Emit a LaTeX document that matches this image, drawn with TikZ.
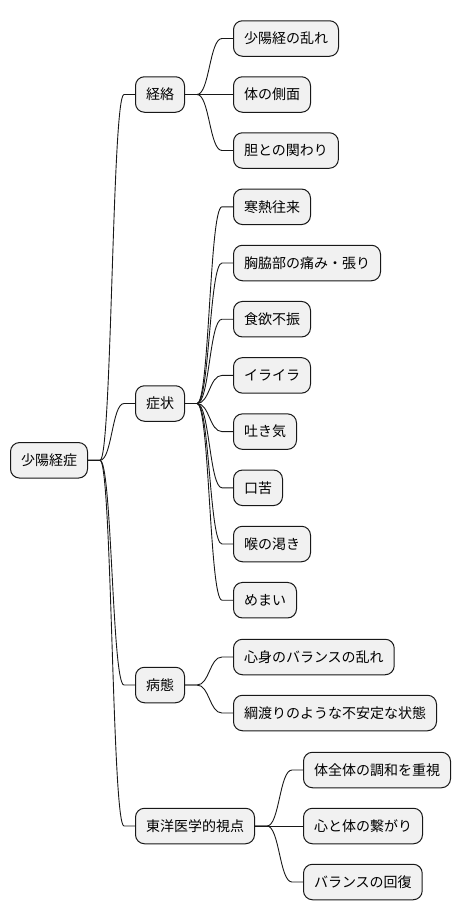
\documentclass[tikz,border=0pt]{standalone}
\usepackage{fontspec}
\newfontfamily\cjk{Noto Sans CJK JP}
\usetikzlibrary{calc}
\definecolor{boxfill}{HTML}{F1F1F1}
\definecolor{boxline}{HTML}{181818}
\tikzset{
  mmnode/.style={draw=boxline, fill=boxfill, rounded corners=9pt, line width=1pt,
    minimum height=35.5pt, inner xsep=10.5pt, inner ysep=0pt, anchor=west,
    font=\cjk\fontsize{14pt}{16pt}\selectfont, text=black},
  conn/.style={draw=boxline, line width=0.9pt}
}
\newcommand\linkto[2]{%
  \path (#1.east) ++(12pt,0) coordinate (fa);
  \path (#2.west) ++(-11pt,0) coordinate (fb);
  \path ($(fa)!0.5!(fb)$) coordinate (fm);
  \draw[conn] (#1.east) -- (fa) .. controls (fm |- fa) and (fm |- fb) .. (fb) -- (#2.west);}
\begin{document}
\begin{tikzpicture}[x=1pt,y=-1pt]
\useasboundingbox (0,0) rectangle (460,921);
\node[mmnode] (root) at (10,460.3) {少陽経症};
\node[mmnode] (a) at (135,94.5) {経絡};
\node[mmnode] (b) at (135,403.5) {症状};
\node[mmnode] (c) at (135,685) {病態};
\node[mmnode] (d) at (135,826) {東洋医学的視点};
\node[mmnode] (a1) at (233,38.5) {少陽経の乱れ};
\node[mmnode] (a2) at (233,94.5) {体の側面};
\node[mmnode] (a3) at (233,150.5) {胆との関わり};
\node[mmnode] (b1) at (233,206.8) {寒熱往来};
\node[mmnode] (b2) at (233,263) {胸脇部の痛み・張り};
\node[mmnode] (b3) at (233,319.2) {食欲不振};
\node[mmnode] (b4) at (233,375.4) {イライラ};
\node[mmnode] (b5) at (233,431.6) {吐き気};
\node[mmnode] (b6) at (233,487.8) {口苦};
\node[mmnode] (b7) at (233,544) {喉の渇き};
\node[mmnode] (b8) at (233,600.2) {めまい};
\node[mmnode] (c1) at (233,657) {心身のバランスの乱れ};
\node[mmnode] (c2) at (233,713) {綱渡りのような不安定な状態};
\node[mmnode] (d1) at (303,770) {体全体の調和を重視};
\node[mmnode] (d2) at (303,826) {心と体の繋がり};
\node[mmnode] (d3) at (303,882) {バランスの回復};
\foreach \c in {a,b,c,d} {\linkto{root}{\c}}
\foreach \c in {a1,a2,a3} {\linkto{a}{\c}}
\foreach \c in {b1,b2,b3,b4,b5,b6,b7,b8} {\linkto{b}{\c}}
\foreach \c in {c1,c2} {\linkto{c}{\c}}
\foreach \c in {d1,d2,d3} {\linkto{d}{\c}}
\end{tikzpicture}
\end{document}
